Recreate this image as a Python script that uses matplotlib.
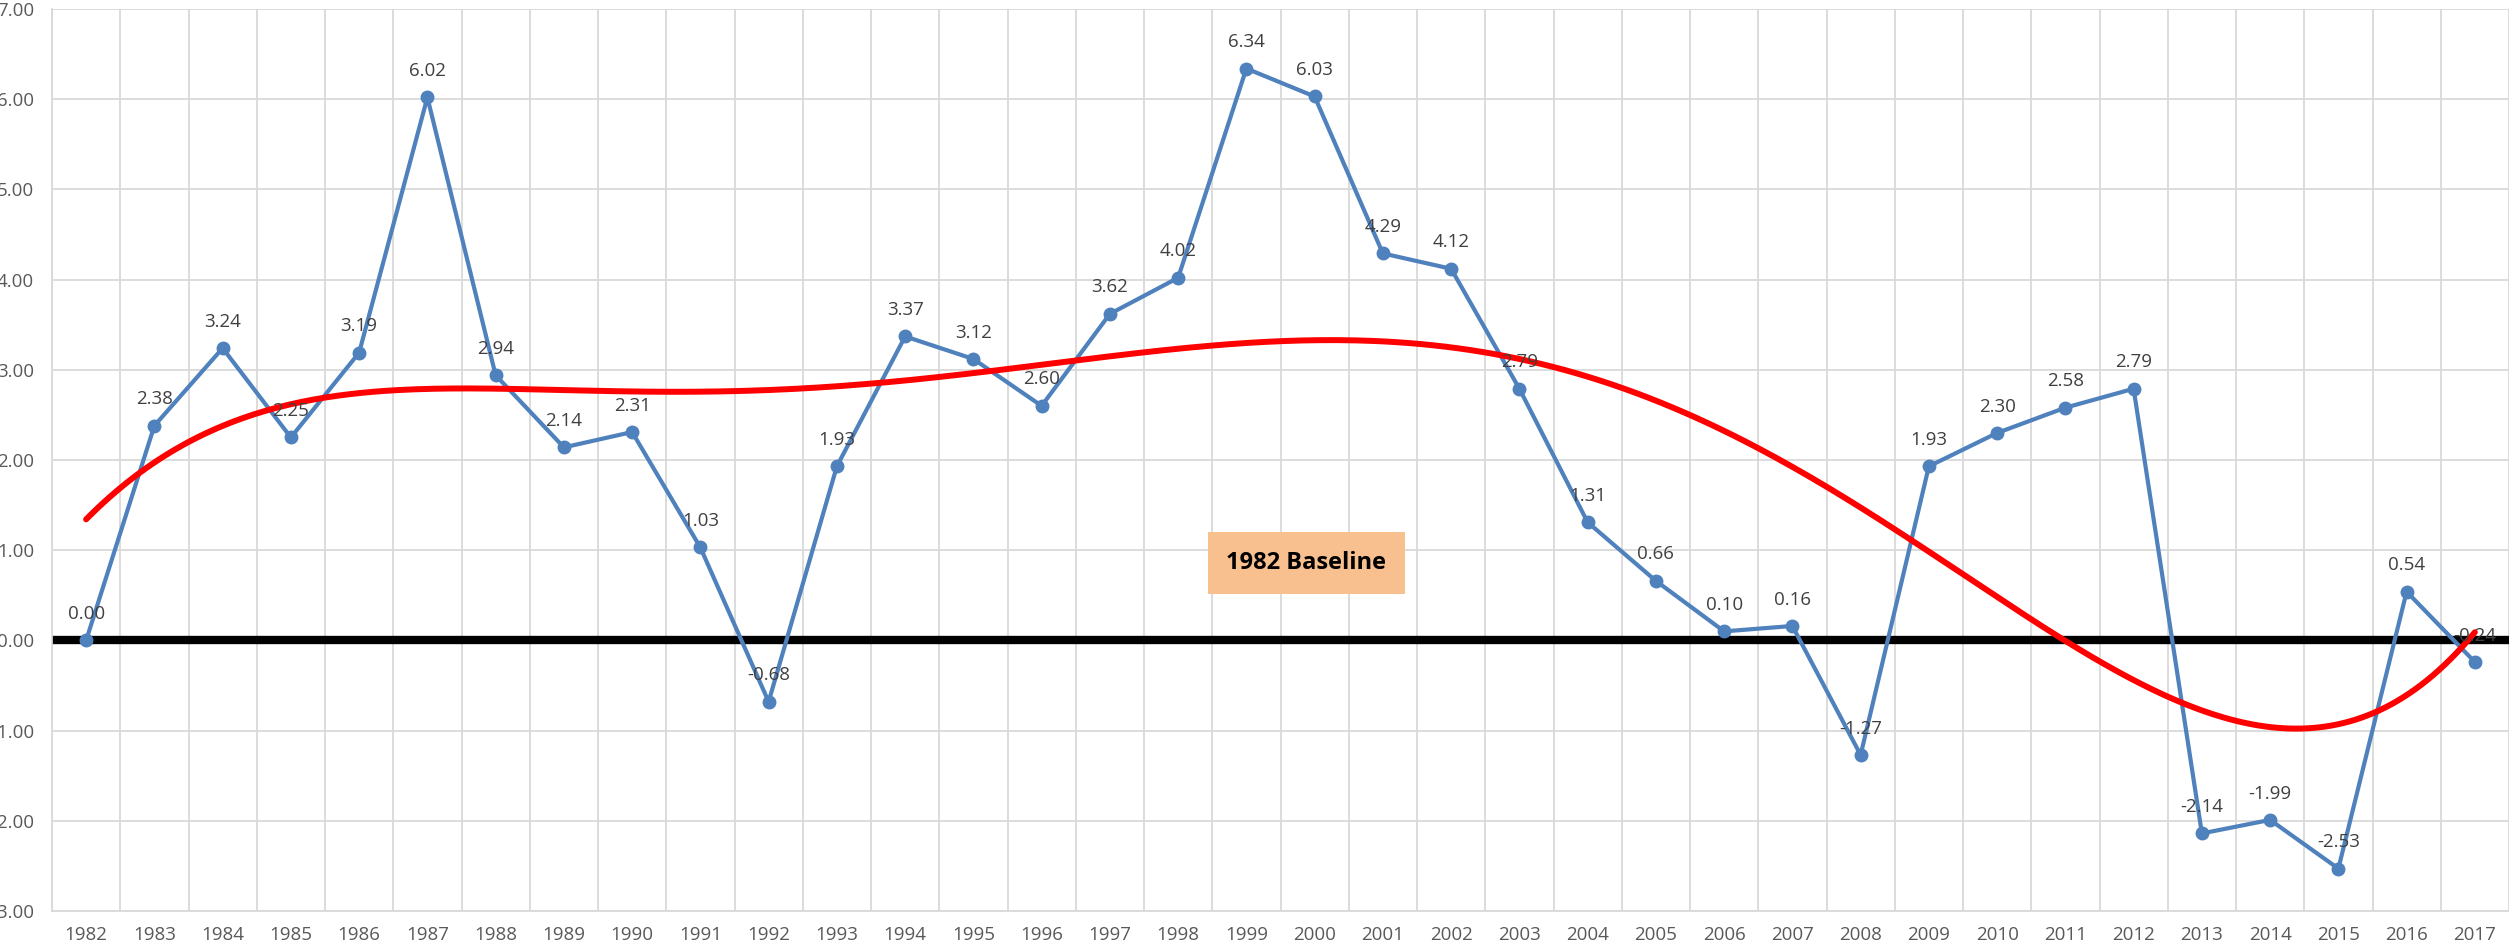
import numpy as np
import matplotlib as mpl
mpl.use('Agg')
import matplotlib.pyplot as plt

years = list(range(1982, 2018))
values = [0.00, 2.38, 3.24, 2.25, 3.19, 6.02, 2.94, 2.14, 2.31, 1.03,
          -0.68, 1.93, 3.37, 3.12, 2.60, 3.62, 4.02, 6.34, 6.03, 4.29,
          4.12, 2.79, 1.31, 0.66, 0.10, 0.16, -1.27, 1.93, 2.30, 2.58,
          2.79, -2.14, -1.99, -2.53, 0.54, -0.24]
y_ticks = [-3, -2, -1, 0, 1, 2, 3, 4, 5, 6, 7]
trend_order = 5
baseline_label = '1982 Baseline'

plt.rcParams['font.family'] = ['Open Sans', 'DejaVu Sans']

W, H = 2509, 951
fig = plt.figure(figsize=(W / 100, H / 100), dpi=100)
ax = fig.add_axes([52 / W, 1 - 911 / H, 1 - 52 / W, (911 - 9) / H])

x = np.arange(len(years))
ax.set_xlim(-0.5, len(years) - 0.5)
ax.set_ylim(-3, 7)

# grid like excel: vertical lines between categories
ax.set_xticks(x)
ax.set_xticks(np.arange(-0.5, len(years), 1), minor=True)
ax.set_xticklabels([str(y) for y in years])
ax.set_yticks(y_ticks)
ax.set_yticklabels(['%.2f' % v for v in y_ticks])
ax.grid(True, which='minor', axis='x', color='#d9d9d9', lw=1.3)
ax.grid(True, which='major', axis='y', color='#d9d9d9', lw=1.3)
ax.tick_params(which='both', length=0, labelsize=13.5, colors='#595959')
ax.tick_params(axis='x', pad=11)
ax.tick_params(axis='y', pad=13)
for s in ['top', 'right']:
    ax.spines[s].set_visible(False)
for s in ['left', 'bottom']:
    ax.spines[s].set_color('#d9d9d9')
    ax.spines[s].set_linewidth(1.3)
ax.set_axisbelow(True)

# baseline
ax.axhline(0, color='black', lw=6, zorder=2)

ax.plot(x, values, color='#4f81bd', lw=3.0, marker='o', ms=9, zorder=3)
for xi, v in zip(x, values):
    ax.annotate('%.2f' % v, (xi, v), xytext=(0, 19), textcoords='offset points',
                ha='center', va='center', fontsize=13.5, color='#404040', zorder=5)

# polynomial trend line (excel style, x = 1..n)
xt = x + 1
coef = np.polyfit(xt, values, trend_order)
xs = np.linspace(xt[0], xt[-1], 400)
ax.plot(xs - 1, np.polyval(coef, xs), color='#ff0000', lw=4.3, zorder=4,
        solid_capstyle='round')

ax.text(17.88, 0.86, baseline_label, ha='center', va='center', fontsize=17,
        fontweight='bold', color='black', zorder=6,
        bbox=dict(boxstyle='square,pad=0.8', fc='#f8c08e', ec='none'))

fig.savefig('out.png', dpi=100)
